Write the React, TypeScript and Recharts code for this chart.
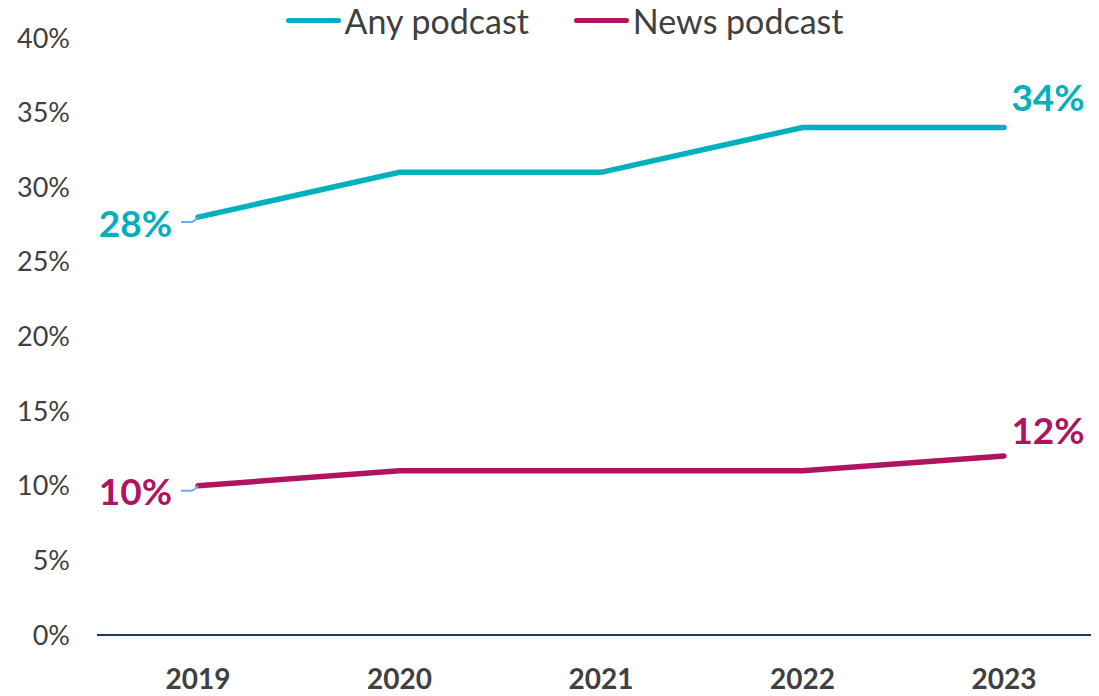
import { LineChart, Line, XAxis, YAxis, Legend } from "recharts";

const years = ["2019", "2020", "2021", "2022", "2023"];
const anyPodcast = [28, 31, 31, 34, 34];
const newsPodcast = [10, 11, 11, 11, 12];
const yTicks = [0, 5, 10, 15, 20, 25, 30, 35, 40];

const TEAL = "#00B1BD";
const MAGENTA = "#B0135F";
const FONT = "Lato, 'Open Sans', sans-serif";

const data = years.map((year, i) => ({
  year,
  any: anyPodcast[i],
  news: newsPodcast[i],
}));

const endLabel = (color: string, lift: number) => (props: any) => {
  const { x, y, index, value } = props;
  if (index === 0) {
    return (
      <g>
        <path
          d={`M ${x - 17} ${y + 5} L ${x - 7} ${y + 5} Q ${x - 4} ${y + 5} ${x} ${y}`}
          stroke="#6EA8F5"
          strokeWidth={2}
          fill="none"
        />
        <text
          x={x - 26}
          y={y + 5}
          textAnchor="end"
          dominantBaseline="central"
          fill={color}
          fontSize={37}
          fontWeight={700}
          fontFamily={FONT}
        >
          {value}%
        </text>
      </g>
    );
  }
  if (index === years.length - 1) {
    return (
      <text
        x={x + 44}
        y={y - lift}
        textAnchor="middle"
        dominantBaseline="central"
        fill={color}
        fontSize={37}
        fontWeight={700}
        fontFamily={FONT}
      >
        {value}%
      </text>
    );
  }
  return null;
};

function LegendBox({ payload }: any) {
  return (
    <div style={{ display: "flex", justifyContent: "center", gap: 45, paddingLeft: 22, fontFamily: FONT }}>
      {(payload || []).map((p: any) => (
        <div key={p.value} style={{ display: "flex", alignItems: "center" }}>
          <span
            style={{
              display: "inline-block",
              width: 55,
              height: 5,
              borderRadius: 3,
              background: p.color,
              marginRight: 4,
            }}
          />
          <span style={{ fontSize: 34, color: "#404040" }}>{p.value}</span>
        </div>
      ))}
    </div>
  );
}

export default function App() {
  return (
    <LineChart width={1091} height={688} data={data} margin={{ top: 30, right: 0, bottom: 11, left: 0 }}>
      <Legend
        verticalAlign="top"
        content={<LegendBox />}
        wrapperStyle={{ position: "absolute", top: -8, left: 0, width: 1091, height: 0, overflow: "visible" }}
      />
      <XAxis
        dataKey="year"
        padding={{ left: 101, right: 95 }}
        axisLine={{ stroke: "#1F3864", strokeWidth: 2 }}
        tickLine={false}
        tickSize={0}
        tickMargin={34}
        height={50}
        tick={{ fill: "#404040", fontSize: 28, fontWeight: 700, fontFamily: FONT }}
      />
      <YAxis
        domain={[0, 40]}
        ticks={yTicks}
        tickFormatter={(v) => `${v}%`}
        axisLine={false}
        tickLine={false}
        tickSize={0}
        tickMargin={27}
        width={89}
        tick={{ fill: "#404040", fontSize: 27, fontFamily: FONT }}
      />
      <Line
        dataKey="any"
        name="Any podcast"
        stroke={TEAL}
        strokeWidth={5.5}
        strokeLinecap="round"
        dot={false}
        activeDot={false}
        isAnimationActive={false}
        label={endLabel(TEAL, 31)}
      />
      <Line
        dataKey="news"
        name="News podcast"
        stroke={MAGENTA}
        strokeWidth={5.5}
        strokeLinecap="round"
        dot={false}
        activeDot={false}
        isAnimationActive={false}
        label={endLabel(MAGENTA, 26)}
      />
    </LineChart>
  );
}
